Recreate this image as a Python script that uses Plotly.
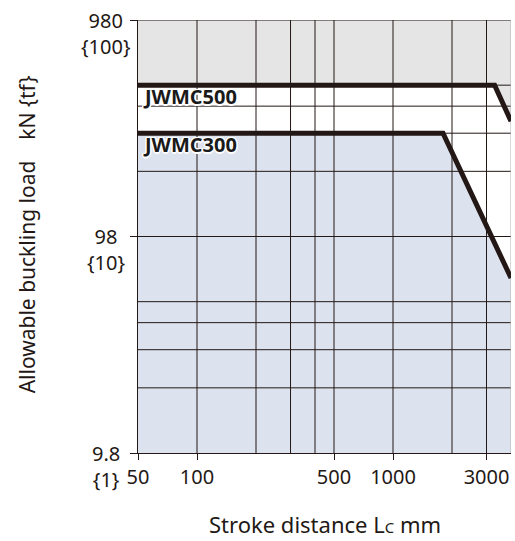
import math
import plotly.graph_objects as go

# ---- data ----
stroke_500 = [50, 3300, 4000]
load_500 = [490, 490, 334]
stroke_300 = [50, 1800, 4000]
load_300 = [294, 294, 63]

x_range_vals = [50, 4000]
y_range_vals = [9.8, 980]

x_grid = [100, 200, 300, 400, 500, 1000, 2000, 3000]
y_grid = [19.6, 29.4, 39.2, 49, 98, 196, 294, 392, 490, 980]

x_tick_vals = [50, 100, 500, 1000, 3000]
x_tick_text = ["50", "100", "500", "1000", "3000"]
y_tick_vals = [9.8, 98, 980]
y_tick_text = ["9.8", "98", "980"]
y_tick_tf = ["{1}", "{10}", "{100}"]

series_names = ["JWMC500", "JWMC300"]
x_title = "Stroke distance L<span style='font-size:15px'>C</span> mm"
y_title = "Allowable buckling load　kN {tf}"

GRAY = "#e5e5e5"
BLUE = "#dce2ee"
INK = "#231815"
FONT = "Noto Sans"
TICK_SIZE = 20

fig = go.Figure()

# gray fill above JWMC500
fig.add_trace(go.Scatter(x=x_range_vals, y=[y_range_vals[1]] * 2, mode="lines",
                         line=dict(width=0), hoverinfo="skip", showlegend=False))
fig.add_trace(go.Scatter(x=stroke_500, y=load_500, mode="lines", line=dict(width=0),
                         fill="tonexty", fillcolor=GRAY, hoverinfo="skip", showlegend=False))
# blue fill below JWMC300
fig.add_trace(go.Scatter(x=x_range_vals, y=[y_range_vals[0]] * 2, mode="lines",
                         line=dict(width=0), hoverinfo="skip", showlegend=False))
fig.add_trace(go.Scatter(x=stroke_300, y=load_300, mode="lines", line=dict(width=0),
                         fill="tonexty", fillcolor=BLUE, hoverinfo="skip", showlegend=False))

# grid lines (drawn above fills)
gx, gy = [], []
for v in x_grid:
    gx += [v, v, None]
    gy += [y_range_vals[0], y_range_vals[1], None]
for v in y_grid:
    gx += [x_range_vals[0], x_range_vals[1], None]
    gy += [v, v, None]
fig.add_trace(go.Scatter(x=gx, y=gy, mode="lines", line=dict(color=INK, width=1),
                         hoverinfo="skip", showlegend=False))
# right border (light)
fig.add_trace(go.Scatter(x=[x_range_vals[1]] * 2, y=y_range_vals, mode="lines",
                         line=dict(color="#b0b0b0", width=1), hoverinfo="skip", showlegend=False))

# thick series lines
fig.add_trace(go.Scatter(x=stroke_500, y=load_500, mode="lines", name=series_names[0],
                         line=dict(color=INK, width=5), showlegend=False))
fig.add_trace(go.Scatter(x=stroke_300, y=load_300, mode="lines", name=series_names[1],
                         line=dict(color=INK, width=5), showlegend=False))

annotations = []
halo = ("1.5px 0 0 #fff, -1.5px 0 0 #fff, 0 1.5px 0 #fff, 0 -1.5px 0 #fff, "
        "1px 1px 0 #fff, -1px -1px 0 #fff, 1px -1px 0 #fff, -1px 1px 0 #fff")
for name, yv in zip(series_names, [load_500[0], load_300[0]]):
    annotations.append(dict(x=math.log10(stroke_500[0]), y=math.log10(yv), xref="x", yref="y",
                            text=name, showarrow=False, xanchor="left", yanchor="middle",
                            xshift=3, yshift=-11,
                            font=dict(family="Open Sans", size=20, color="#1a1a1a",
                                      weight=700, shadow=halo)))
# y tick labels: value line centred on the tick, {tf} line below
for v, t, tf in zip(y_tick_vals, y_tick_text, y_tick_tf):
    annotations.append(dict(x=0, y=math.log10(v), xref="paper", yref="y",
                            text=t + "<br>" + tf, align="center",
                            showarrow=False, xanchor="center", yanchor="middle",
                            xshift=-32, yshift=-13,
                            font=dict(family=FONT, size=TICK_SIZE, color=INK)))
# axis titles
annotations.append(dict(x=0.5, y=0, xref="paper", yref="paper", text=x_title,
                        showarrow=False, xanchor="center", yanchor="middle", yshift=-71,
                        font=dict(family=FONT, size=22, color=INK)))
annotations.append(dict(x=0, y=0.505, xref="paper", yref="paper", text=y_title,
                        showarrow=False, xanchor="center", yanchor="middle", xshift=-111,
                        textangle=-90, font=dict(family=FONT, size=21, color=INK)))

fig.update_layout(
    width=515, height=541,
    margin=dict(l=138, r=4, t=20, b=88),
    paper_bgcolor="white", plot_bgcolor="white",
    font=dict(family=FONT, size=TICK_SIZE, color=INK),
    annotations=annotations,
    xaxis=dict(type="log", range=[math.log10(x_range_vals[0]), math.log10(x_range_vals[1])],
               showgrid=False, zeroline=False, automargin=False,
               tickmode="array", tickvals=x_tick_vals, ticktext=x_tick_text,
               ticks="outside", ticklen=6, tickcolor=INK, tickwidth=1,
               showline=True, linecolor=INK, linewidth=1),
    yaxis=dict(type="log", range=[math.log10(y_range_vals[0]), math.log10(y_range_vals[1])],
               showgrid=False, zeroline=False, automargin=False,
               tickmode="array", tickvals=y_tick_vals, showticklabels=False,
               ticks="outside", ticklen=7, tickcolor=INK, tickwidth=1,
               showline=True, linecolor=INK, linewidth=1),
)

fig.write_html("out.html", config={"displayModeBar": False},
               post_script="document.body.style.margin='0';document.body.style.overflow='hidden';")
